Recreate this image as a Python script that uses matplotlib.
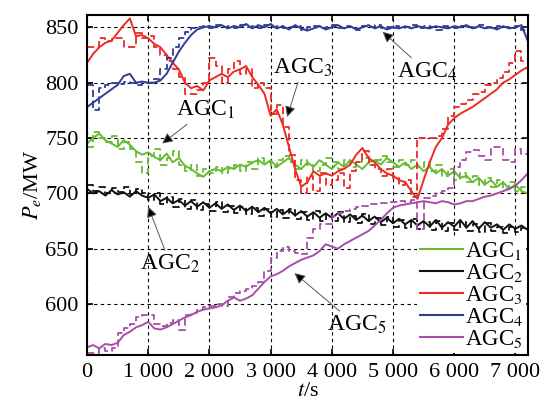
import numpy as np
import matplotlib
matplotlib.use("Agg")
import matplotlib.pyplot as plt

plt.rcParams['font.family'] = ['Liberation Serif', 'DejaVu Serif']
plt.rcParams['mathtext.fontset'] = 'stix'

# time axis, s
t = np.arange(0, 7201, 100)

# AGC1 (green)
agc1_a = [745, 750, 754, 748, 745, 742, 748, 744, 738, 735, 737, 733, 730, 736, 728, 732, 725, 722, 718, 715,
          720, 722, 720, 724, 722, 726, 724, 728, 730, 726, 730, 724, 728, 732, 726, 722, 728, 724, 730, 726,
          722, 728, 724, 730, 726, 722, 728, 730, 726, 732, 728, 724, 728, 722, 726, 720, 724, 718, 722, 716,
          720, 714, 716, 710, 714, 708, 712, 706, 710, 704, 708, 702, 700]
agc1_b = [742, 755, 750, 746, 752, 740, 746, 740, 728, 718, 734, 740, 726, 732, 738, 726, 720, 726, 716, 722,
          718, 724, 718, 722, 726, 720, 728, 722, 732, 728, 724, 730, 734, 728, 722, 730, 726, 720, 726, 732,
          728, 722, 730, 724, 728, 732, 726, 730, 734, 728, 724, 730, 726, 730, 724, 728, 720, 726, 716, 722,
          712, 718, 710, 716, 708, 714, 706, 712, 704, 710, 702, 706, 698]
# AGC2 (black)
agc2_a = [704, 700, 702, 698, 703, 699, 701, 697, 702, 698, 696, 699, 693, 696, 691, 694, 689, 693, 688, 692,
          687, 691, 686, 690, 685, 689, 684, 688, 683, 687, 682, 686, 681, 685, 680, 684, 679, 683, 678, 682,
          678, 682, 677, 681, 676, 680, 675, 679, 674, 678, 673, 677, 672, 676, 671, 675, 670, 676, 669, 674,
          670, 676, 669, 675, 668, 674, 669, 672, 667, 672, 668, 671, 667]
agc2_b = [708, 702, 706, 700, 705, 701, 706, 699, 704, 700, 694, 700, 690, 697, 688, 695, 686, 694, 685, 690,
          684, 692, 683, 689, 682, 688, 681, 687, 680, 686, 679, 685, 678, 686, 677, 683, 676, 684, 675, 681,
          675, 683, 674, 680, 673, 681, 672, 678, 671, 679, 670, 676, 669, 677, 668, 674, 667, 675, 666, 673,
          667, 674, 666, 672, 665, 673, 666, 670, 664, 670, 665, 669, 664]
# AGC3 (red)
agc3_a = [818, 826, 832, 836, 838, 845, 852, 858, 842, 843, 840, 835, 832, 825, 818, 812, 800, 795, 797, 793,
          802, 805, 808, 805, 810, 812, 815, 805, 798, 790, 770, 776, 762, 742, 722, 706, 710, 720, 716, 718,
          716, 720, 722, 726, 735, 741, 732, 728, 722, 718, 716, 712, 710, 702, 695, 712, 728, 742, 750, 762,
          768, 772, 775, 778, 782, 786, 790, 794, 800, 803, 807, 811, 814]
agc3_b = [832, 832, 840, 838, 840, 840, 832, 832, 845, 840, 842, 832, 825, 820, 812, 805, 790, 790, 793, 800,
          822, 815, 800, 812, 820, 808, 812, 795, 800, 795, 772, 780, 760, 735, 712, 700, 716, 702, 718, 708,
          712, 718, 705, 720, 728, 738, 726, 722, 716, 722, 714, 708, 712, 697, 750, 750, 750, 752, 758, 770,
          778, 781, 784, 790, 792, 798, 800, 804, 810, 818, 829, 820, 816]
# AGC4 (blue)
agc4_a = [778, 782, 786, 790, 794, 798, 806, 808, 800, 801, 800, 800, 802, 808, 818, 828, 836, 843, 848, 850,
          851, 850, 852, 849, 851, 850, 853, 849, 852, 850, 853, 849, 851, 848, 852, 849, 847, 849, 851, 848,
          850, 852, 849, 851, 848, 850, 852, 849, 851, 848, 850, 849, 851, 849, 851, 850, 849, 851, 850, 849,
          851, 850, 852, 849, 851, 849, 850, 848, 851, 849, 850, 852, 838]
agc4_b = [798, 775, 795, 798, 800, 799, 801, 800, 798, 800, 800, 803, 812, 822, 832, 840, 846, 849, 850, 851,
          849, 852, 850, 851, 849, 852, 850, 851, 849, 852, 850, 851, 849, 850, 851, 848, 850, 851, 849, 850,
          852, 849, 851, 850, 848, 851, 850, 852, 849, 850, 851, 849, 850, 852, 849, 851, 850, 848, 851, 850,
          849, 851, 850, 849, 852, 850, 849, 851, 850, 849, 851, 848, 840]
# AGC5 (purple)
agc5_a = [561, 563, 560, 564, 563, 565, 572, 575, 579, 581, 584, 578, 577, 579, 582, 585, 588, 590, 593, 595,
          596, 597, 599, 603, 606, 603, 605, 608, 614, 620, 625, 627, 630, 634, 637, 640, 642, 644, 648, 654,
          652, 650, 654, 657, 660, 663, 666, 671, 676, 682, 687, 689, 690, 691, 692, 693, 692, 691, 693, 692,
          690, 691, 693, 693, 695, 697, 698, 700, 702, 704, 707, 712, 718]
agc5_b = [556, 556, 560, 558, 560, 574, 578, 582, 588, 590, 590, 582, 580, 583, 586, 577, 590, 592, 595, 597,
          598, 600, 598, 606, 610, 612, 614, 616, 620, 630, 642, 648, 652, 648, 646, 645, 660, 668, 672, 672,
          680, 682, 684, 686, 688, 689, 690, 690, 691, 692, 692, 693, 692, 694, 668, 696, 698, 700, 702, 705,
          724, 730, 737, 739, 734, 730, 742, 742, 730, 728, 740, 736, 742]

names = ['AGC$_1$', 'AGC$_2$', 'AGC$_3$', 'AGC$_4$', 'AGC$_5$']
colors = ['#66bb33', '#111111', '#ee2a24', '#2e3d96', '#a84ea8']
solid = [agc1_a, agc2_a, agc3_a, agc4_a, agc5_a]
dashed = [agc1_b, agc2_b, agc3_b, agc4_b, agc5_b]

xticks = [0, 1000, 2000, 3000, 4000, 5000, 6000, 7000]
xtick_labels = ['0', '1 000', '2 000', '3 000', '4 000', '5 000', '6 000', '7 000']
yticks = [600, 650, 700, 750, 800, 850]

fig = plt.figure(figsize=(5.44, 4.09), dpi=100)
ax = fig.add_axes([0.160, 0.132, 0.811, 0.831])

for i in range(5):
    ax.plot(t, solid[i], color=colors[i], lw=1.4, label=names[i])
    ax.plot(t, dashed[i], color=colors[i], lw=1.3, ls=(0, (4, 2)), drawstyle='steps-post')

ax.set_xlim(0, 7210)
ax.set_ylim(554, 861)
ax.set_xticks(xticks)
ax.set_xticklabels(xtick_labels)
ax.set_yticks(yticks)
ax.tick_params(direction='in', length=4, width=1.2, labelsize=16, top=True, right=True, pad=6)
ax.grid(True, color='k', ls=(0, (3, 3)), lw=0.8)
for s in ax.spines.values():
    s.set_linewidth(1.5)

ax.set_ylabel('$P_e$/MW', fontsize=16, labelpad=2)
ax.set_xlabel('$t$/s', fontsize=16, labelpad=0)

# annotations
arr = dict(arrowstyle='-|>', fc='k', ec='0.35', lw=0.7, mutation_scale=16, shrinkA=0, shrinkB=0)
ax.annotate('AGC$_1$', xy=(1227, 745), xytext=(1930, 775), fontsize=17, ha='center', va='center', arrowprops=arr)
ax.annotate('AGC$_2$', xy=(1000, 688), xytext=(1360, 636), fontsize=17, ha='center', va='center', arrowprops=arr)
ax.annotate('AGC$_3$', xy=(3270, 769), xytext=(3520, 813), fontsize=17, ha='center', va='center', arrowprops=arr)
ax.annotate('AGC$_4$', xy=(4830, 846), xytext=(5550, 810), fontsize=17, ha='center', va='center', arrowprops=arr)
ax.annotate('AGC$_5$', xy=(3390, 628), xytext=(4400, 581), fontsize=17, ha='center', va='center', arrowprops=arr)

leg = ax.legend(loc='lower right', fontsize=16.5, frameon=True, fancybox=False, framealpha=1,
                edgecolor='none', facecolor='white', handlelength=1.9, handletextpad=0.1,
                labelspacing=0.0, borderpad=0.1, borderaxespad=0.1)
for h in leg.get_lines():
    h.set_linewidth(1.5)

fig.savefig('out.png', dpi=100)
